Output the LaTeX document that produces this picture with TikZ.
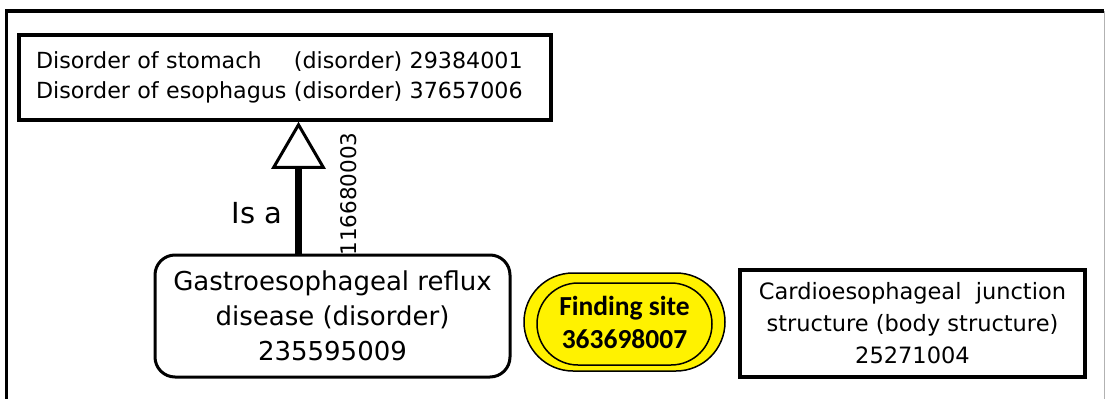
\documentclass[tikz,border=0pt]{standalone}
\usepackage{fontspec}
\setmainfont{DejaVu Sans}
\newfontfamily\pillfont{Carlito}
\usetikzlibrary{arrows.meta,calc}
\begin{document}
\begin{tikzpicture}[x=1pt,y=-1pt,
  sqbox/.style={draw, line width=3.5pt, inner sep=0pt, align=center},
  rbox/.style={draw, line width=3pt, rounded corners=20pt, inner sep=0pt, align=center},
  pill/.style={draw, line width=1.5pt, fill=yellow, rounded corners=49pt, inner sep=0pt, align=center},
  isa/.style={line width=7pt, -{Triangle[fill=white, length=47pt, width=54pt, line width=3pt]}},
  lbl/.style={inner sep=0pt}
]
\useasboundingbox (0,0) rectangle (1106,399);
% outer frame
\draw[line width=3.5pt] (6.5,410) -- (6.5,11) -- (1104,11);
\draw[gray!60, line width=1.5pt] (1104.5,11) -- (1104.5,399);

% top box
\node[sqbox, minimum width=532pt, minimum height=85pt, text width=498pt, align=left,
      font=\fontsize{22.2}{30}\selectfont] (top) at (285,77.5)
 {\begin{tabular}{@{}l@{ }l@{}}
  Disorder of stomach & (disorder) 29384001\\
  Disorder of esophagus & (disorder) 37657006
 \end{tabular}};

% GERD box
\node[rbox, minimum width=355pt, minimum height=122pt, font=\fontsize{26}{35}\selectfont] (gerd) at (332.5,316)
 {Gastroesophageal reflux\\ disease (disorder)\\ 235595009};

% finding site pill
\node[pill, minimum width=201pt, minimum height=98pt, font=\pillfont\bfseries\fontsize{27.5}{33}\selectfont] (fs) at (624.5,322)
 {Finding site\\ 363698007};
\draw[line width=1.5pt, rounded corners=41pt] ($(fs.center)+(-87.5,-39)$) rectangle ($(fs.center)+(87.5,43)$);

% body structure box
\node[sqbox, minimum width=345pt, minimum height=107pt, font=\fontsize{22.5}{32}\selectfont] (cej) at (912.5,323.5)
 {Cardioesophageal\ \ junction\\ structure (body structure)\\ 25271004};

% is-a arrow
\coordinate (abot) at ($(gerd.north west)+(145,0)$);
\draw[isa] (abot) -- (abot |- top.south);
\node[lbl, font=\fontsize{29}{29}\selectfont] (isalbl) at (257,213) {Is a};
\node[lbl, rotate=90, font=\fontsize{21.5}{21.5}\selectfont] (code) at (348.5,194) {116680003};
\end{tikzpicture}
\end{document}
